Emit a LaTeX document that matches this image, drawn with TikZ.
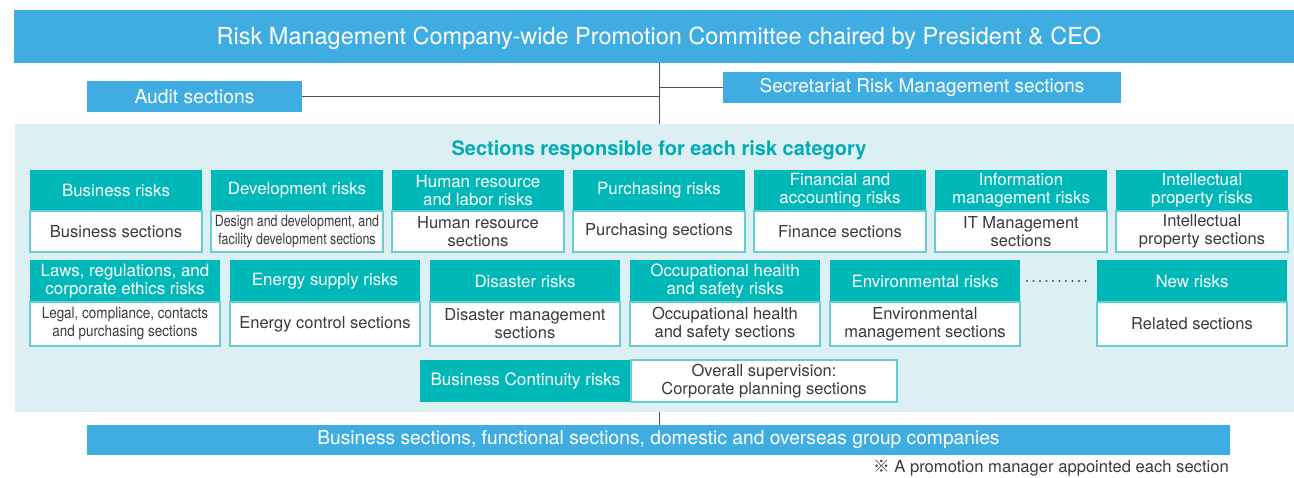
\documentclass[tikz,border=0pt]{standalone}
\usepackage{fontspec}
\setmainfont{TeX Gyre Heros}
\newfontfamily\condfont[FakeStretch=0.80]{TeX Gyre Heros}
\newfontfamily\condfontb[FakeStretch=0.87]{TeX Gyre Heros}
\newfontfamily\cjkfont{Noto Sans CJK JP}
\definecolor{barblue}{RGB}{64,173,226}
\definecolor{teal}{RGB}{0,184,184}
\definecolor{titleteal}{RGB}{0,172,182}
\definecolor{lightbg}{RGB}{220,239,243}
\definecolor{bodyline}{RGB}{100,206,210}
\definecolor{txtdark}{RGB}{58,58,58}
\definecolor{linegray}{RGB}{80,80,80}
\newcommand\riskbox[8]{%
  \node[headbox, minimum width=#4pt, minimum height=#5pt, anchor=north west] (#1h) at (#2,#3) {#7};
  \node[bodybox, minimum width=#4pt, minimum height=#6pt, anchor=north] (#1b) at (#1h.south) {#8};
}
\begin{document}
\begin{tikzpicture}[x=1pt,y=-1pt,
  bluebox/.style={fill=barblue, text=white, inner sep=0pt, outer sep=0pt},
  headbox/.style={fill=teal, text=white, inner sep=0pt, outer sep=0pt, align=center,
    font=\fontsize{16.9}{17.7}\selectfont},
  bodybox/.style={fill=white, draw=bodyline, line width=1.1pt, text=txtdark, inner sep=0pt, outer sep=0pt,
    align=center, font=\fontsize{16.5}{18}\selectfont},
  conn/.style={draw=linegray, line width=1pt},
  dotline/.style={draw=linegray, line width=2.1pt, dash pattern=on 0pt off 6.5pt, line cap=round}
]
\useasboundingbox (0,0) rectangle (1294,478);
% top bar
\node[bluebox, minimum width=1280pt, minimum height=53pt, anchor=north west] (top) at (14,10) {};
\node[text=white, inner sep=0pt, font=\fontsize{23.5}{25}\selectfont] (toptitle) at (659,38) {Risk Management Company-wide Promotion Committee chaired by President \& CEO};
% audit and secretariat
\node[bluebox, minimum width=215pt, minimum height=31pt, anchor=north west, font=\fontsize{19.3}{21}\selectfont] (audit) at (87,81) {Audit sections};
\node[bluebox, minimum width=398pt, minimum height=31pt, anchor=north west, font=\fontsize{19}{21}\selectfont] (secr) at (723,72) {Secretariat Risk Management sections};
% background
\node[fill=lightbg, inner sep=0pt, outer sep=0pt, minimum width=1279pt, minimum height=288pt, anchor=north west] (bg) at (15,124) {};
\coordinate (spine) at (659,63);
\draw[conn] (spine |- top.south) -- (spine |- bg.north);
\draw[conn] (audit.east) -- (audit.east -| spine);
\draw[conn] (spine |- secr.west) -- (secr.west);
\node[text=titleteal, font=\bfseries\fontsize{20}{22}\selectfont, inner sep=0pt] (cattitle) at (659,150) {Sections responsible for each risk category};
% row 1
\riskbox{a}{30}{170}{172}{41}{41}{Business risks}{Business sections}
\riskbox{b}{211}{170}{172}{41}{41}{Development risks}{\condfont\fontsize{15.5}{17.5}\selectfont Design and development, and\\\condfont\fontsize{15.5}{17.5}\selectfont facility development sections}
\riskbox{c}{392}{170}{172}{41}{41}{Human resource\\and labor risks}{Human resource\\sections}
\riskbox{d}{573}{170}{172}{41}{41}{Purchasing risks}{Purchasing sections}
\riskbox{e}{754}{170}{172}{41}{41}{Financial and\\accounting risks}{Finance sections}
\riskbox{f}{935}{170}{172}{41}{41}{Information\\management risks}{IT Management\\sections}
\riskbox{g}{1116}{170}{172}{41}{41}{Intellectual\\property risks}{Intellectual\\property sections}
% row 2
\riskbox{p}{30}{260}{190}{42}{44}{Laws, regulations, and\\corporate ethics risks}{\condfontb\fontsize{15.5}{17.5}\selectfont Legal, compliance, contacts\\\condfontb\fontsize{15.5}{17.5}\selectfont and purchasing sections}
\riskbox{q}{230}{260}{190}{42}{44}{Energy supply risks}{Energy control sections}
\riskbox{r}{430}{260}{190}{42}{44}{Disaster risks}{Disaster management\\sections}
\riskbox{s}{630}{260}{190}{42}{44}{Occupational health\\and safety risks}{Occupational health\\and safety sections}
\riskbox{t}{830}{260}{190}{42}{44}{Environmental risks}{Environmental\\management sections}
\riskbox{u}{1097}{260}{190}{42}{44}{New risks}{Related sections}
\draw[dotline] ([xshift=7pt]th.east) -- ([xshift=-5pt]uh.west);
% business continuity
\node[headbox, minimum width=211pt, minimum height=42pt, anchor=north west, font=\fontsize{17.1}{18}\selectfont] (bch) at (420,360) {Business Continuity risks};
\node[bodybox, minimum width=266pt, minimum height=42pt, anchor=west] (bcb) at (bch.east) {Overall supervision:\\Corporate planning sections};
% bottom bar
\node[bluebox, minimum width=1143pt, minimum height=30pt, anchor=north west, font=\fontsize{19.2}{21}\selectfont] (bottom) at (87,425) {Business sections, functional sections, domestic and overseas group companies};
\draw[conn] (spine |- bg.south) -- (spine |- bottom.north);
\node[text=txtdark, inner sep=0pt, anchor=east, font=\fontsize{16.6}{18}\selectfont] (note) at (1229,468) {{\cjkfont ※} A promotion manager appointed each section};
\end{tikzpicture}
\end{document}
